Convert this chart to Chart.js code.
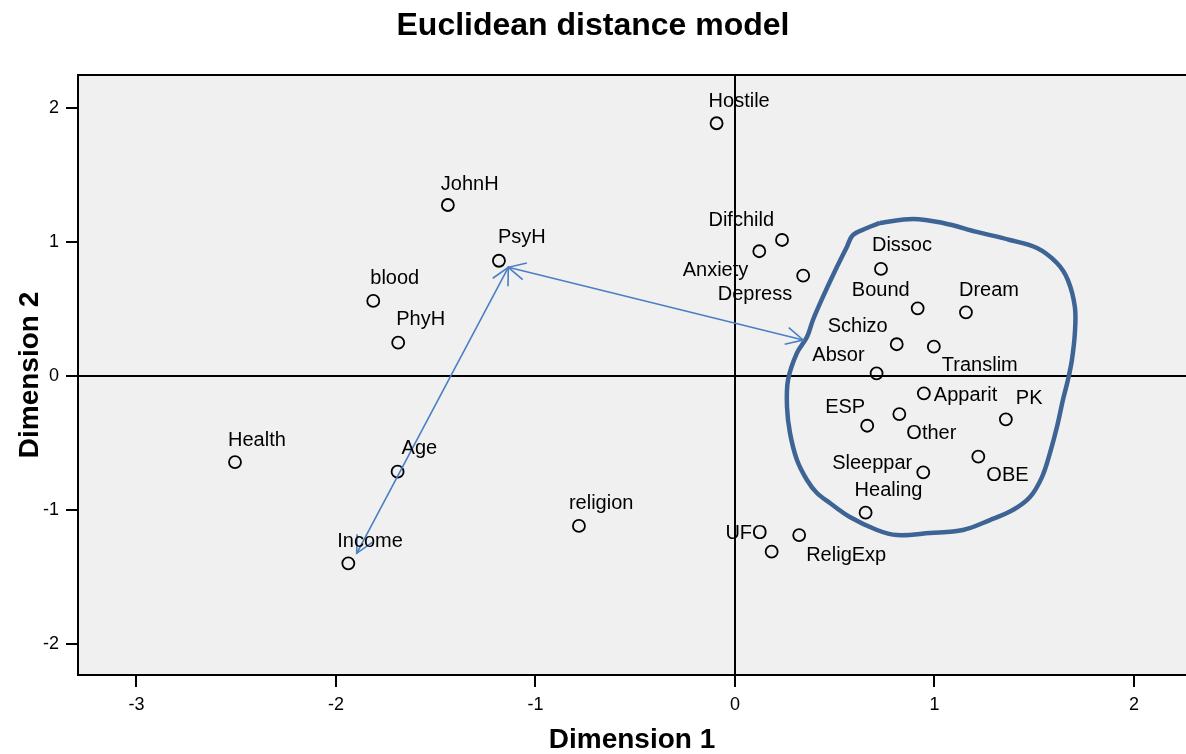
<!DOCTYPE html>
<html>
<head>
<meta charset="utf-8">
<script src="https://cdn.jsdelivr.net/npm/chart.js@4.4.1/dist/chart.umd.min.js"></script>
<style>
  html, body { margin: 0; padding: 0; background: #fff; overflow: hidden; }
  canvas { display: block; }
</style>
</head>
<body>
<canvas id="mds" width="1186" height="754"></canvas>
<script>
// stimulus coordinates (Euclidean distance model)
const names = ['Hostile', 'JohnH', 'PsyH', 'blood', 'PhyH', 'Health', 'Age', 'Income', 'religion',
  'Difchild', 'Anxiety', 'Depress', 'Dissoc', 'Bound', 'Dream', 'Schizo', 'Translim', 'Absor',
  'Apparit', 'PK', 'ESP', 'Other', 'OBE', 'Sleeppar', 'Healing', 'UFO', 'ReligExp'];
const dim1 = [-0.092, -1.439, -1.183, -1.813, -1.688, -2.506, -1.691, -1.938, -0.782,
  0.236, 0.122, 0.342, 0.732, 0.916, 1.158, 0.811, 0.997, 0.710,
  0.947, 1.358, 0.663, 0.824, 1.220, 0.944, 0.655, 0.184, 0.322];
const dim2 = [1.886, 1.276, 0.860, 0.560, 0.249, -0.642, -0.714, -1.398, -1.119,
  1.015, 0.931, 0.749, 0.799, 0.505, 0.475, 0.237, 0.219, 0.020,
  -0.129, -0.323, -0.371, -0.284, -0.602, -0.719, -1.020, -1.311, -1.187];

// hand drawn annotations
const arrowA_x = [-1.896, -1.136];
const arrowA_y = [-1.323, 0.811];
const arrowB_x = [-1.136, 0.342];
const arrowB_y = [0.811, 0.269];
const loop_x = [0.727, 0.892, 1.043, 1.213, 1.378, 1.514, 1.614, 1.669, 1.704, 1.704, 1.689, 1.669,
  1.644, 1.614, 1.579, 1.539, 1.479, 1.393, 1.278, 1.143, 0.977, 0.812, 0.712, 0.576, 0.476,
  0.411, 0.361, 0.311, 0.276, 0.261, 0.266, 0.311, 0.361, 0.391, 0.441, 0.511, 0.561, 0.591, 0.662, 0.727];
const loop_y = [1.142, 1.172, 1.142, 1.075, 1.015, 0.955, 0.843, 0.716, 0.515, 0.321, 0.119, -0.030,
  -0.179, -0.381, -0.575, -0.754, -0.903, -1.000, -1.075, -1.149, -1.172, -1.187, -1.149, -1.052, -0.948,
  -0.873, -0.776, -0.627, -0.425, -0.231, -0.030, 0.172, 0.291, 0.418, 0.590, 0.813, 0.963, 1.052, 1.104, 1.142];

const xTicks = [-3, -2, -1, 0, 1, 2];
const yTicks = [-2, -1, 0, 1, 2];

// label placement: [align, dx, dy] in px relative to the marker
const labelPos = {
  Hostile: ['left', -8, -22], JohnH: ['left', -7, -21], PsyH: ['left', -1, -23], blood: ['left', -3, -22],
  PhyH: ['left', -2, -23], Health: ['left', -7, -22], Age: ['left', 4, -23], Income: ['left', -11, -22],
  religion: ['left', -10, -22], Difchild: ['right', -8, -19], Anxiety: ['right', -11, 19],
  Depress: ['right', -11, 19], Dissoc: ['left', -9, -23], Bound: ['right', -8, -18], Dream: ['left', -7, -22],
  Schizo: ['right', -9, -18], Translim: ['left', 8, 19], Absor: ['right', -12, -18], Apparit: ['left', 10, 2],
  PK: ['left', 10, -21], ESP: ['right', -2, -18], Other: ['left', 7, 19], OBE: ['left', 8, 19],
  Sleeppar: ['right', -11, -9], Healing: ['left', -11, -22], UFO: ['right', -4, -18], ReligExp: ['left', 7, 20]
};

const FONT = '"Liberation Sans", Arial, Helvetica, sans-serif';
const toXY = (xs, ys) => xs.map((v, i) => ({ x: v, y: ys[i] }));

const framePlugin = {
  id: 'frame',
  beforeDraw(chart) {
    const a = chart.chartArea, c = chart.ctx;
    c.save();
    c.fillStyle = '#f0f0f0';
    c.fillRect(a.left, a.top, a.right - a.left, a.bottom - a.top);
    c.restore();
  },
  afterDatasetsDraw(chart) {
    const c = chart.ctx;
    // arrow heads
    [1, 2].forEach(di => {
      const pts = chart.getDatasetMeta(di).data;
      const ends = [[pts[0], pts[1]], [pts[1], pts[0]]];
      c.save();
      c.strokeStyle = '#4a7fc4';
      c.lineWidth = 1.6;
      ends.forEach(([tip, from]) => {
        const ang = Math.atan2(tip.y - from.y, tip.x - from.x);
        const len = 19, spread = 0.47;
        c.beginPath();
        c.moveTo(tip.x - len * Math.cos(ang - spread), tip.y - len * Math.sin(ang - spread));
        c.lineTo(tip.x, tip.y);
        c.lineTo(tip.x - len * Math.cos(ang + spread), tip.y - len * Math.sin(ang + spread));
        c.stroke();
      });
      c.restore();
    });
    // point labels
    const meta = chart.getDatasetMeta(3);
    c.save();
    c.font = '20px ' + FONT;
    c.fillStyle = '#000';
    c.textBaseline = 'middle';
    meta.data.forEach((p, i) => {
      const lp = labelPos[names[i]] || ['left', -7, -22];
      c.textAlign = lp[0];
      c.fillText(names[i], p.x + lp[1], p.y + lp[2]);
    });
    c.restore();
  },
  afterDraw(chart) {
    const a = chart.chartArea, c = chart.ctx;
    c.save();
    // top edge of the plot frame (left/bottom come from the axes)
    c.strokeStyle = '#000';
    c.lineWidth = 2;
    c.beginPath();
    c.moveTo(a.left, a.top);
    c.lineTo(a.right, a.top);
    c.stroke();
    c.fillStyle = '#000';
    c.textAlign = 'center';
    c.textBaseline = 'middle';
    c.font = 'bold 32px ' + FONT;
    c.fillText('Euclidean distance model', chart.width / 2, 26);
    c.font = 'bold 28px ' + FONT;
    c.fillText('Dimension 1', (a.left + a.right) / 2, 740);
    c.translate(30, (a.top + a.bottom) / 2);
    c.rotate(-Math.PI / 2);
    c.fillText('Dimension 2', 0, 0);
    c.restore();
  }
};

function keepTicks(list) {
  return function(scale) {
    scale.ticks = list.map(v => ({ value: v }));
  };
}

new Chart(document.getElementById('mds'), {
  type: 'scatter',
  data: {
    datasets: [
      {
        label: 'cluster',
        data: toXY(loop_x, loop_y),
        showLine: true,
        borderColor: '#3d6494',
        borderWidth: 4.5,
        pointRadius: 0,
        tension: 0.35,
        fill: false
      },
      {
        label: 'arrowA',
        data: toXY(arrowA_x, arrowA_y),
        showLine: true,
        borderColor: '#4a7fc4',
        borderWidth: 1.6,
        pointRadius: 0
      },
      {
        label: 'arrowB',
        data: toXY(arrowB_x, arrowB_y),
        showLine: true,
        borderColor: '#4a7fc4',
        borderWidth: 1.6,
        pointRadius: 0
      },
      {
        label: 'stimuli',
        data: toXY(dim1, dim2),
        pointRadius: 6,
        pointHoverRadius: 6,
        borderWidth: 1.8,
        borderColor: '#000',
        backgroundColor: 'rgba(0,0,0,0)'
      }
    ]
  },
  options: {
    responsive: false,
    animation: false,
    layout: { autoPadding: false, padding: { top: 75, right: 0, left: 0, bottom: 0 } },
    plugins: {
      legend: { display: false },
      tooltip: { enabled: false },
      title: { display: false }
    },
    scales: {
      x: {
        type: 'linear',
        min: -3.293,
        max: 2.261,
        afterBuildTicks: keepTicks(xTicks),
        afterFit: function(scale) {
          scale.height = 79;
          scale.paddingLeft = 0;
          scale.paddingRight = 0;
        },
        grid: {
          drawOnChartArea: true,
          color: ctx => (ctx.tick && ctx.tick.value === 0 ? '#000' : 'rgba(0,0,0,0)'),
          lineWidth: 2,
          tickColor: '#000',
          tickLength: 12
        },
        border: { display: true, color: '#000', width: 2 },
        ticks: { color: '#000', font: { family: FONT, size: 18 }, padding: 7, maxRotation: 0 }
      },
      y: {
        type: 'linear',
        min: -2.231,
        max: 2.246,
        afterBuildTicks: keepTicks(yTicks),
        afterFit: function(scale) {
          scale.width = 78;
          scale.paddingTop = 0;
          scale.paddingBottom = 0;
        },
        grid: {
          drawOnChartArea: true,
          color: ctx => (ctx.tick && ctx.tick.value === 0 ? '#000' : 'rgba(0,0,0,0)'),
          lineWidth: 2,
          tickColor: '#000',
          tickLength: 12
        },
        border: { display: true, color: '#000', width: 2 },
        ticks: { color: '#000', font: { family: FONT, size: 18 }, padding: 7 }
      }
    }
  },
  plugins: [framePlugin]
});
</script>
</body>
</html>
